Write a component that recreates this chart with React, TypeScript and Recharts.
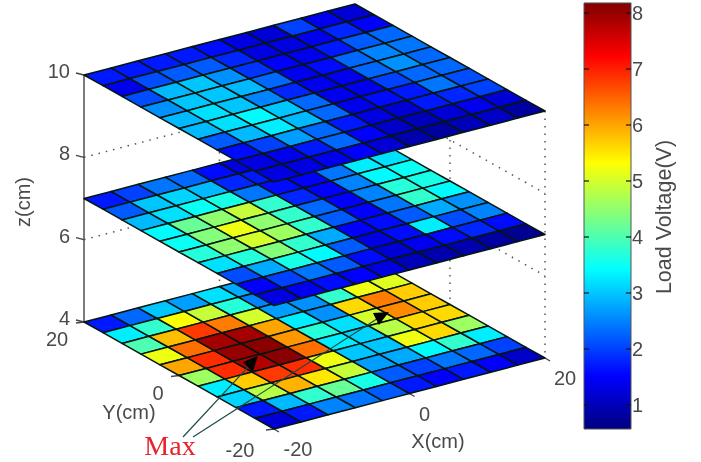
import React from 'react';
import { ScatterChart, Scatter, XAxis, YAxis, ReferenceArea, ReferenceLine } from 'recharts';

// Rows run from Y=20 to Y=-20, columns from X=-20 to X=20. Values are load voltage.
const layerZ10 = [
  [1.7,1.7,1.7,1.7,1.6,1.3,1.2,2.0,1.4,1.2],
  [1.4,2.1,2.2,2.2,1.8,1.3,1.3,1.4,1.8,1.5],
  [2.1,2.9,3.0,2.6,1.9,1.5,1.4,1.7,2.2,2.3],
  [2.6,3.0,3.0,2.9,2.3,1.4,1.6,2.3,2.5,2.4],
  [2.9,3.2,3.0,2.5,1.8,1.4,1.4,2.3,2.6,2.3],
  [2.9,3.2,3.4,3.0,2.3,1.4,1.4,2.0,2.3,2.3],
  [2.2,2.9,3.3,2.9,2.3,1.4,1.6,1.7,2.4,2.1],
  [1.6,2.0,2.7,2.3,1.7,1.3,1.2,1.7,1.8,2.0],
  [1.3,1.4,1.7,2.3,1.5,1.1,1.0,1.2,1.4,1.2],
  [1.3,1.3,1.4,1.5,1.2,0.9,0.8,1.0,1.1,0.8],
];
const layerZ7 = [
  [1.7,2.0,2.4,2.3,1.6,1.3,1.3,1.3,1.3,1.3],
  [2.2,3.0,3.1,2.9,1.8,1.7,1.3,1.3,2.4,2.4],
  [2.9,3.2,3.5,3.6,2.4,1.6,1.5,2.4,3.3,3.2],
  [3.4,4.2,4.5,4.9,3.8,1.8,1.5,2.5,3.4,3.5],
  [3.5,4.4,5.2,4.5,3.8,2.3,1.5,2.5,3.7,3.6],
  [3.7,4.5,5.0,4.6,3.8,2.2,1.5,2.4,3.8,3.4],
  [3.2,3.7,4.4,3.8,2.8,1.5,1.6,2.2,2.8,2.6],
  [2.1,2.8,3.6,3.4,2.2,1.3,1.6,3.3,2.1,2.5],
  [1.5,2.0,2.4,2.2,1.6,1.2,1.4,1.6,1.8,1.6],
  [1.3,1.4,1.6,1.5,1.3,1.0,0.9,0.9,0.8,0.7],
];
const layerZ4 = [
  [1.7,2.3,3.0,2.7,3.2,2.8,2.5,2.5,2.5,2.5],
  [3.3,3.8,5.3,4.9,3.7,2.5,2.4,2.8,3.8,4.8],
  [4.0,5.8,6.8,6.3,5.0,2.7,2.6,3.8,5.2,5.1],
  [5.2,6.4,7.9,7.9,6.0,3.3,2.6,5.6,6.3,5.7],
  [6.0,6.9,8.0,8.1,6.1,3.7,3.2,5.0,6.2,5.7],
  [4.6,6.9,7.8,8.1,6.4,3.3,3.1,4.8,5.6,5.6],
  [3.3,5.7,6.8,6.9,5.2,3.0,3.0,5.2,5.6,4.6],
  [3.1,4.8,5.9,5.5,4.9,2.7,2.8,3.4,3.8,3.3],
  [1.7,2.9,3.8,4.2,3.6,2.2,2.0,2.4,2.3,2.0],
  [1.2,1.7,2.5,2.4,2.2,1.7,1.5,1.7,1.5,1.1],
];
const layerHeights = [4, 7, 10];
const zTicks = [4, 6, 8, 10];
const voltageTicks = [1, 2, 3, 4, 5, 6, 7, 8];
const xTicks = [-20, 0, 20];
const yTicks = [20, 0, -20];
const xGridWalls = [0];
const dottedHeights = [8, 6];
const maxPointers = [
  { x: -11, y: -2.07 },
  { x: 10.7, y: 1.49 },
];

const W = 701, H = 462;
const VOLT_MIN = 0.571, VOLT_MAX = 8.179;
const CELL = 4;
const FONT = '"Liberation Sans", Arial, sans-serif';
const TEXT = '#4a4a4a';

function project(x: number, y: number, z: number) {
  const u = (x + 20) / 40, w = (20 - y) / 40;
  return { sx: 84 + 271 * u + 190 * w, sy: 75 - 71 * u + 107 * w + (10 - z) * 41.17 };
}
function clamp(a: number) { return Math.max(0, Math.min(1, a)); }
function jet(t: number) {
  const c = (o: number) => Math.round(255 * clamp(1.5 - Math.abs(4 * t - o)));
  return `rgb(${c(3)},${c(2)},${c(1)})`;
}
const colorOf = (v: number) => jet((v - VOLT_MIN) / (VOLT_MAX - VOLT_MIN));

function cells(rows: number[][], z: number) {
  const out: any[] = [];
  rows.forEach((row, r) => row.forEach((v, c) => {
    const x0 = -20 + c * CELL, y0 = 20 - r * CELL;
    const corners = [project(x0, y0, z), project(x0 + CELL, y0, z), project(x0 + CELL, y0 - CELL, z), project(x0, y0 - CELL, z)];
    const mid = project(x0 + CELL / 2, y0 - CELL / 2, z);
    out.push({ sx: mid.sx, sy: mid.sy, v, offsets: corners.map(p => [p.sx - mid.sx, p.sy - mid.sy]) });
  }));
  return out;
}
const CellShape = (p: any) => (
  <polygon
    points={p.payload.offsets.map((o: number[]) => `${p.cx + o[0]},${p.cy + o[1]}`).join(' ')}
    fill={colorOf(p.payload.v)} stroke="#04160f" strokeWidth={1.5} strokeLinejoin="round"
  />
);
const NoShape = () => <g />;
const TextShape = (p: any) => {
  const d = p.payload;
  return (
    <text x={p.cx} y={p.cy} textAnchor="middle" dominantBaseline="central"
      fontFamily={d.family || FONT} fontSize={d.size} fill={d.color || TEXT}
      transform={d.angle ? `rotate(${d.angle} ${p.cx} ${p.cy})` : undefined}>{d.text}</text>
  );
};
const ArrowShape = (p: any) => {
  const a = p.payload.tip;
  return <polygon points={a.map((o: number[]) => `${p.cx + o[0]},${p.cy + o[1]}`).join(' ')} fill="#000" />;
};

function seg(a: any, b: any) { return [a, b]; }
const dottedLines = [
  ...dottedHeights.flatMap(z => [seg(project(-20, 20, z), project(20, 20, z)), seg(project(20, 20, z), project(20, -20, z))]),
  ...xGridWalls.map(x => seg(project(x, 20, 10), project(x, 20, 4))),
  seg(project(20, 0, 10), project(20, 0, 4)),
  seg(project(20, -20, 10), project(20, -20, 4)),
];
const solidLines = [
  seg(project(-20, 20, 10), project(-20, 20, 4)),
  ...zTicks.map(z => seg(project(-20, 20, z), { sx: project(-20, 20, z).sx - 8, sy: project(-20, 20, z).sy - 2 })),
  ...xTicks.map(x => seg(project(x, -20, 4), { sx: project(x, -20, 4).sx + 5, sy: project(x, -20, 4).sy + 3 })),
  ...yTicks.map(y => seg(project(-20, y, 4), { sx: project(-20, y, 4).sx - 8, sy: project(-20, y, 4).sy + 1 })),
];
const maxOrigin = [{ sx: 183, sy: 437 }, { sx: 193, sy: 437 }];
const pointerPts = maxPointers.map(m => project(m.x, m.y, 4));
const arrowTips = [
  [[-7, -3], [8, -9], [3, 7]],
  [[-7, -4], [9, -5], [-1, 8]],
];

const xTickOffset = [[24, 20], [15, 20], [20, 20]];
const yTickOffset = [[-27, 17], [-21, 17], [-34, 21]];
const labels = [
  ...xTicks.map((x, i) => { const p = project(x, -20, 4); return { sx: p.sx + xTickOffset[i][0], sy: p.sy + xTickOffset[i][1], text: String(x), size: 20 }; }),
  ...yTicks.map((y, i) => { const p = project(-20, y, 4); return { sx: p.sx + yTickOffset[i][0], sy: p.sy + yTickOffset[i][1], text: String(y), size: 20 }; }),
  { sx: 438, sy: 441, text: 'X(cm)', size: 20 },
  { sx: 129, sy: 412, text: 'Y(cm)', size: 20 },
  { sx: 23, sy: 202, text: 'z(cm)', size: 20, angle: -90 },
  { sx: 664, sy: 217, text: 'Load Voltage(V)', size: 21.5, angle: -90 },
  { sx: 170, sy: 445, text: 'Max', size: 28, color: '#e8232b', family: '"Liberation Serif", serif' },
];

const gradStops = [0, 0.125, 0.375, 0.625, 0.875, 1];

const ZTick = (p: any) => (
  <text x={70} y={p.y - 4} textAnchor="end" dominantBaseline="central" fontFamily={FONT} fontSize={20} fill={TEXT}>{p.payload.value}</text>
);
const VTick = (p: any) => (
  <text x={632} y={p.y} textAnchor="start" dominantBaseline="central" fontFamily={FONT} fontSize={20} fill={TEXT}>{p.payload.value}</text>
);

export default function App() {
  const layers = [layerZ4, layerZ7, layerZ10];
  return (
    <div style={{ position: 'absolute', left: 0, top: 0, width: W, height: H, background: '#fff', filter: 'blur(0.5px)' }}>
      <ScatterChart width={W} height={H} margin={{ top: 0, right: 0, bottom: 0, left: 0 }}>
        <defs>
          <linearGradient id="jetbar" x1="0" y1="1" x2="0" y2="0">
            {gradStops.map(t => <stop key={t} offset={t} stopColor={jet(t)} />)}
          </linearGradient>
        </defs>
        <XAxis xAxisId="screen" dataKey="sx" type="number" domain={[0, W]} hide />
        <YAxis yAxisId="screen" dataKey="sy" type="number" domain={[0, H]} reversed hide />
        <YAxis yAxisId="z" orientation="left" type="number" mirror domain={[0.6, 11.822]} ticks={zTicks}
          interval={0} axisLine={false} tickLine={false} tick={ZTick} allowDataOverflow />
        <YAxis yAxisId="v" orientation="right" type="number" mirror domain={[-0.018, 8.232]} ticks={voltageTicks}
          interval={0} axisLine={false} tickLine={false} tick={VTick} allowDataOverflow />

        {dottedLines.map((l, i) => (
          <Scatter key={`d${i}`} xAxisId="screen" yAxisId="screen" data={l} shape={NoShape} isAnimationActive={false}
            line={{ stroke: '#555', strokeWidth: 1.5, strokeDasharray: '1.5 6' }} />
        ))}
        {solidLines.map((l, i) => (
          <Scatter key={`s${i}`} xAxisId="screen" yAxisId="screen" data={l} shape={NoShape} isAnimationActive={false}
            line={{ stroke: '#444', strokeWidth: 1.4 }} />
        ))}
        {layers.map((rows, i) => (
          <Scatter key={`l${i}`} xAxisId="screen" yAxisId="screen" data={cells(rows, layerHeights[i])} shape={CellShape} isAnimationActive={false} />
        ))}
        {pointerPts.map((p, i) => (
          <Scatter key={`p${i}`} xAxisId="screen" yAxisId="screen" data={[maxOrigin[i], p]} shape={NoShape} isAnimationActive={false}
            line={{ stroke: '#1f4a4a', strokeWidth: 1.2 }} />
        ))}
        <Scatter xAxisId="screen" yAxisId="screen" data={pointerPts.map((p, i) => ({ ...p, tip: arrowTips[i] }))} shape={ArrowShape} isAnimationActive={false} />
        <Scatter xAxisId="screen" yAxisId="screen" data={labels} shape={TextShape} isAnimationActive={false} />

        <ReferenceArea xAxisId="screen" yAxisId="v" x1={584} x2={631} y1={VOLT_MIN} y2={VOLT_MAX} fill="url(#jetbar)" fillOpacity={1} stroke="#555" strokeWidth={1} />
        {voltageTicks.flatMap(v => [
          <ReferenceLine key={`a${v}`} xAxisId="screen" yAxisId="v" segment={[{ x: 584, y: v }, { x: 589, y: v }]} stroke="#111" strokeWidth={1.2} />,
          <ReferenceLine key={`b${v}`} xAxisId="screen" yAxisId="v" segment={[{ x: 626, y: v }, { x: 631, y: v }]} stroke="#111" strokeWidth={1.2} />,
        ])}
      </ScatterChart>
    </div>
  );
}
